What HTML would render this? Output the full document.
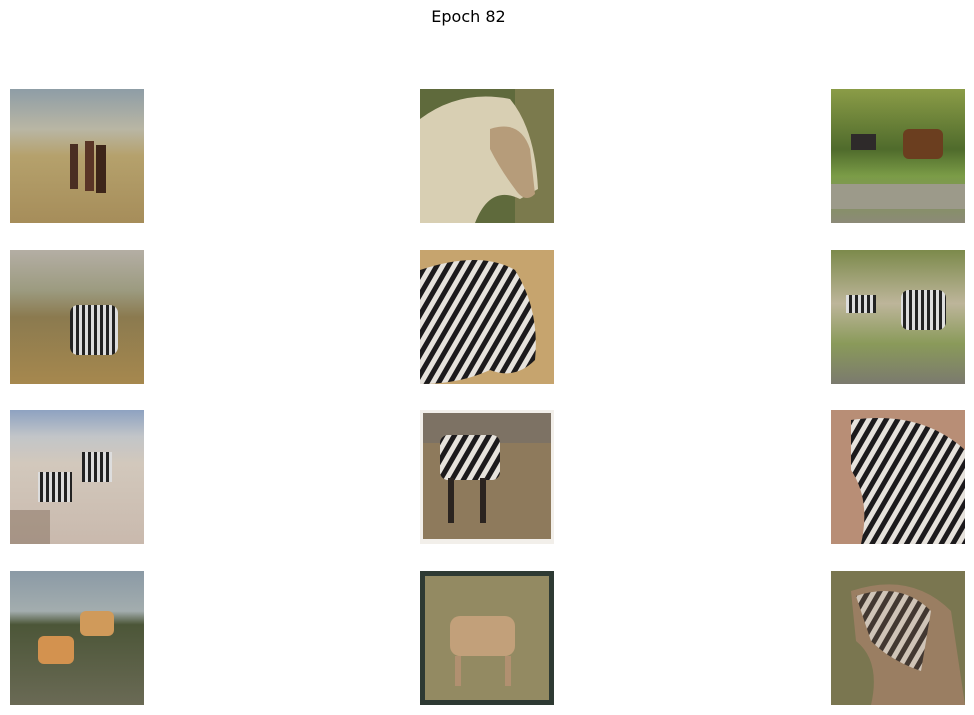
<!DOCTYPE html>
<html><head><meta charset="utf-8">
<style>
html,body{margin:0;padding:0;background:#fff;}
body{width:974px;height:715px;position:relative;overflow:hidden;font-family:"DejaVu Sans","Liberation Sans",sans-serif;}
#title{position:absolute;top:7px;left:0;width:937px;text-align:center;font-size:16px;color:#000;}
.tile{position:absolute;width:134px;height:134px;}
</style></head><body>
<div id="title">Epoch 82</div>

<svg class="tile" style="left:10px;top:89px" viewBox="0 0 134 134">
<defs><linearGradient id="g1" x1="0" y1="0" x2="0" y2="1"><stop offset="0" stop-color="#8e9da6"/><stop offset="0.3" stop-color="#b9b6a4"/><stop offset="0.5" stop-color="#b5a16c"/><stop offset="1" stop-color="#a68d5a"/></linearGradient></defs>
<rect width="134" height="134" fill="url(#g1)"/>
<rect x="60" y="55" width="8" height="45" fill="#4a2e22"/><rect x="75" y="52" width="9" height="50" fill="#5a3526"/><rect x="86" y="56" width="10" height="48" fill="#3d2519"/>
</svg>

<svg class="tile" style="left:420px;top:89px" viewBox="0 0 134 134">
<rect width="134" height="134" fill="#5f6a3c"/><rect x="95" width="39" height="134" fill="#7b7a4d"/>
<path d="M0 30 Q40 0 90 10 Q115 40 118 100 L100 110 Q70 95 55 134 L0 134Z" fill="#d8cfb3"/>
<path d="M70 40 Q100 30 110 60 L115 105 Q105 115 95 100 Q80 80 70 60Z" fill="#b69c7a"/>
</svg>

<svg class="tile" style="left:831px;top:89px" viewBox="0 0 134 134">
<defs><linearGradient id="g3" x1="0" y1="0" x2="0" y2="1"><stop offset="0" stop-color="#8b9c47"/><stop offset="0.45" stop-color="#4f6b2c"/><stop offset="0.65" stop-color="#7b9c47"/><stop offset="1" stop-color="#8c8a78"/></linearGradient></defs>
<rect width="134" height="134" fill="url(#g3)"/>
<rect x="72" y="40" width="40" height="30" rx="6" fill="#6b3e1f"/><rect x="20" y="45" width="25" height="16" fill="#2e2a2a"/>
<rect x="0" y="95" width="134" height="25" fill="#9c9a8a"/>
</svg>

<svg class="tile" style="left:10px;top:250px" viewBox="0 0 134 134">
<defs><linearGradient id="g4" x1="0" y1="0" x2="0" y2="1"><stop offset="0" stop-color="#b4aea4"/><stop offset="0.3" stop-color="#9c9b80"/><stop offset="0.5" stop-color="#8b7a4f"/><stop offset="1" stop-color="#a6884e"/></linearGradient></defs>
<rect width="134" height="134" fill="url(#g4)"/>
<defs><pattern id="st" width="6" height="6" patternUnits="userSpaceOnUse"><rect width="3" height="6" fill="#222"/><rect x="3" width="3" height="6" fill="#ddd"/></pattern></defs>
<rect x="60" y="55" width="48" height="50" rx="8" fill="url(#st)"/>
</svg>

<svg class="tile" style="left:420px;top:250px" viewBox="0 0 134 134">
<rect width="134" height="134" fill="#c6a46e"/>
<defs><pattern id="st2" width="10" height="10" patternUnits="userSpaceOnUse" patternTransform="rotate(30)"><rect width="5" height="10" fill="#1c1a1c"/><rect x="5" width="5" height="10" fill="#e6e2dc"/></pattern></defs>
<path d="M0 20 Q60 0 95 20 Q120 60 115 110 Q95 130 70 120 Q40 134 0 134Z" fill="url(#st2)"/>
</svg>

<svg class="tile" style="left:831px;top:250px" viewBox="0 0 134 134">
<defs><linearGradient id="g6" x1="0" y1="0" x2="0" y2="1"><stop offset="0" stop-color="#7c8a4b"/><stop offset="0.4" stop-color="#bdb59a"/><stop offset="0.7" stop-color="#8a9a5a"/><stop offset="1" stop-color="#7b7a6e"/></linearGradient></defs>
<rect width="134" height="134" fill="url(#g6)"/>
<rect x="70" y="40" width="45" height="40" rx="8" fill="url(#st)"/><rect x="15" y="45" width="30" height="18" fill="url(#st)"/>
</svg>

<svg class="tile" style="left:10px;top:410px" viewBox="0 0 134 134">
<defs><linearGradient id="g7" x1="0" y1="0" x2="0" y2="1"><stop offset="0" stop-color="#8ea2c1"/><stop offset="0.2" stop-color="#c2c5c8"/><stop offset="0.4" stop-color="#d2c8bc"/><stop offset="1" stop-color="#c9b9ad"/></linearGradient></defs>
<rect width="134" height="134" fill="url(#g7)"/>
<rect x="72" y="42" width="30" height="30" fill="url(#st)"/><rect x="28" y="62" width="34" height="30" fill="url(#st)"/>
<rect x="0" y="100" width="40" height="34" fill="#8f7c6a" opacity="0.6"/>
</svg>

<svg class="tile" style="left:420px;top:410px" viewBox="0 0 134 134">
<rect width="134" height="134" fill="#f2efea"/>
<rect x="3" y="3" width="128" height="126" fill="#8e7a5c"/>
<rect x="3" y="3" width="128" height="30" fill="#7d7264"/>
<rect x="20" y="25" width="60" height="45" rx="8" fill="url(#st2)"/>
<rect x="28" y="68" width="6" height="45" fill="#2b2420"/><rect x="60" y="68" width="6" height="45" fill="#2b2420"/>
</svg>

<svg class="tile" style="left:831px;top:410px" viewBox="0 0 134 134">
<rect width="134" height="134" fill="#b88e76"/>
<path d="M20 10 Q90 0 134 40 L134 134 L30 134 Q40 90 20 60Z" fill="url(#st2)"/>
</svg>

<svg class="tile" style="left:10px;top:571px" viewBox="0 0 134 134">
<defs><linearGradient id="g10" x1="0" y1="0" x2="0" y2="1"><stop offset="0" stop-color="#8b9aa6"/><stop offset="0.3" stop-color="#a3adae"/><stop offset="0.4" stop-color="#4c5638"/><stop offset="1" stop-color="#6a6a55"/></linearGradient></defs>
<rect width="134" height="134" fill="url(#g10)"/>
<rect x="70" y="40" width="34" height="25" rx="6" fill="#d09a5a"/><rect x="28" y="65" width="36" height="28" rx="6" fill="#d3924f"/>
</svg>

<svg class="tile" style="left:420px;top:571px" viewBox="0 0 134 134">
<rect width="134" height="134" fill="#2e3a33"/>
<rect x="5" y="5" width="124" height="124" fill="#938a62"/>
<rect x="30" y="45" width="65" height="40" rx="10" fill="#c2a07a"/>
<rect x="35" y="85" width="6" height="30" fill="#b19070"/><rect x="85" y="85" width="6" height="30" fill="#b19070"/>
</svg>

<svg class="tile" style="left:831px;top:571px" viewBox="0 0 134 134">
<rect width="134" height="134" fill="#7a7650"/>
<path d="M20 20 Q80 0 120 40 L134 134 L40 134 Q50 90 25 70Z" fill="#9a7e62"/>
<path d="M25 25 Q70 10 100 40 L90 100 Q60 90 40 70Z" fill="url(#st2)" opacity="0.7"/>
</svg>
</body></html>
